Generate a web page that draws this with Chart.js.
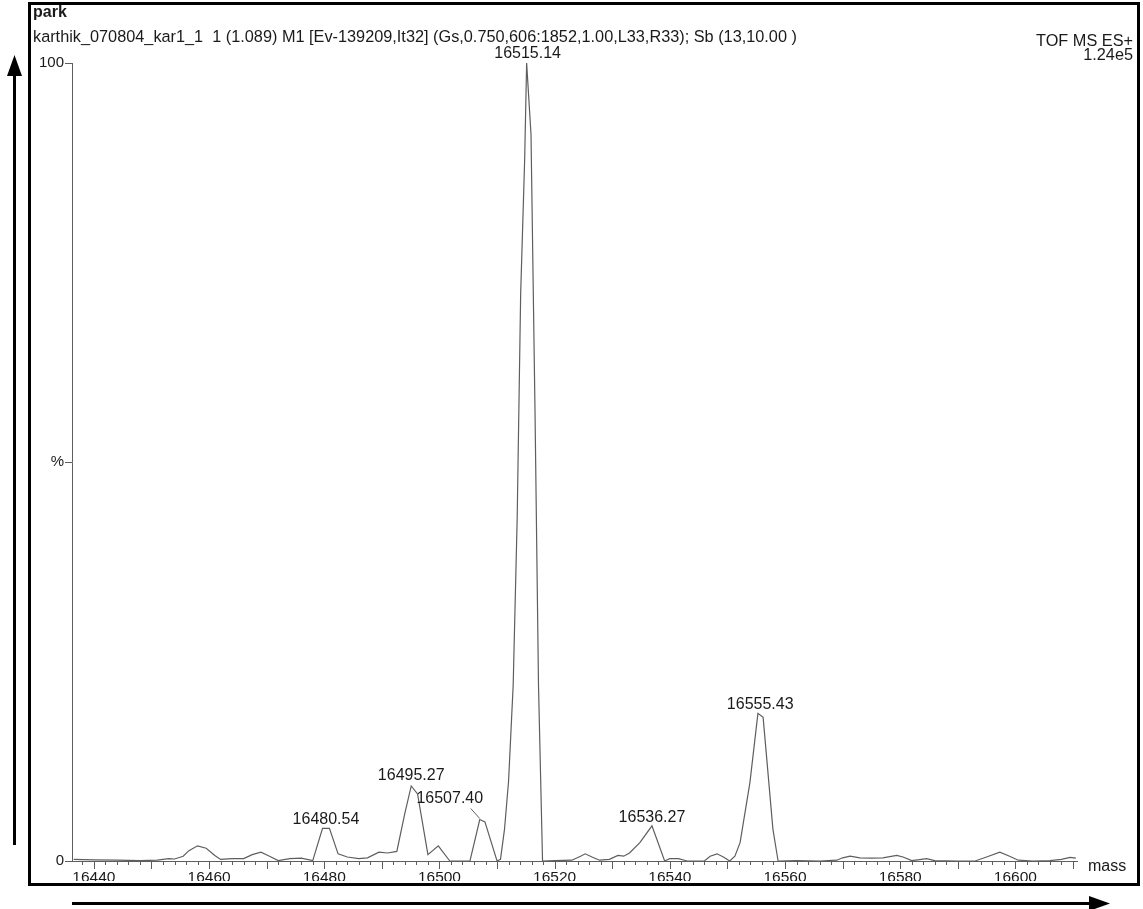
<!DOCTYPE html>
<html>
<head>
<meta charset="utf-8">
<script src="https://cdn.jsdelivr.net/npm/chart.js@4"></script>
<style>
  body { margin: 0; background: #fff; }
  canvas { display: block; }
</style>
</head>
<body>
<canvas id="spectrum" width="1143" height="909"></canvas>
<script>
// Spectrum trace: mass (Da) vs relative intensity (%)
const massValues = [
  16436.5, 16440, 16444, 16448, 16451, 16453, 16454, 16455.5, 16456.5, 16458,
  16459.5, 16461, 16462, 16464, 16466, 16467.5, 16469, 16470.5, 16472, 16474,
  16476, 16478, 16479.7, 16480.9, 16482.4, 16484, 16486, 16487.5, 16489.5, 16491,
  16492.6, 16494, 16495.1, 16496.2, 16498, 16499.8, 16501.8, 16505.3, 16507.0, 16507.9,
  16510.0, 16510.6, 16511.3, 16512.0, 16512.8, 16513.5, 16514.1, 16514.8, 16515.14, 16515.9,
  16516.6, 16517.2, 16517.9, 16520, 16523, 16524.5, 16525.3, 16526.5, 16527.8, 16529.5,
  16531.0, 16532, 16533, 16534.8, 16536.9, 16539.1, 16540, 16541.5, 16543, 16546,
  16547, 16548.2, 16549.3, 16550.4, 16551.3, 16552.2, 16553.9, 16555.3, 16556.2, 16557.9,
  16558.8, 16562, 16566, 16569, 16570, 16571.3, 16573, 16575, 16577, 16579.4,
  16580.5, 16582, 16583, 16584.6, 16586, 16590, 16593, 16595, 16597.3, 16599,
  16600.5, 16603, 16606, 16608, 16609.5, 16610.5
];
const intensityValues = [
  0.2, 0.15, 0.1, 0.05, 0.1, 0.3, 0.25, 0.6, 1.3, 1.9,
  1.6, 0.7, 0.2, 0.3, 0.3, 0.8, 1.1, 0.6, 0.05, 0.3,
  0.35, 0.05, 4.1, 4.1, 0.9, 0.5, 0.3, 0.4, 1.1, 1.0,
  1.2, 6.0, 9.4, 8.4, 0.8, 1.9, 0, 0, 5.2, 4.9,
  0, 0.2, 4.0, 10, 22, 43, 71, 88, 100, 91,
  56, 22, 0, 0.05, 0.1, 0.6, 0.9, 0.5, 0.1, 0.2,
  0.7, 0.6, 1.0, 2.3, 4.4, 0, 0.3, 0.3, 0, 0,
  0.6, 0.9, 0.5, 0, 0.6, 2.3, 9.8, 18.5, 18.0, 4.0,
  0, 0.05, 0, 0.1, 0.4, 0.6, 0.4, 0.35, 0.4, 0.7,
  0.5, 0.05, 0.15, 0.3, 0.05, 0, 0, 0.5, 1.1, 0.6,
  0.1, 0, 0.05, 0.2, 0.45, 0.35
];

// Axis ticks
const massTicks = [16440, 16460, 16480, 16500, 16520, 16540, 16560, 16580, 16600];
const intensityTicks = [0, 50, 100];
const intensityTickLabels = ["0", "%", "100"];

// Annotated peaks
const peakLabels = ["16480.54", "16495.27", "16507.40", "16515.14", "16536.27", "16555.43"];
const peakMasses = [16480.3, 16495.1, 16507.0, 16515.14, 16536.9, 16555.7];
const peakHeights = [4.1, 9.4, 5.2, 100, 4.4, 18.5];

const headerTitle = "park";
const headerInfo = "karthik_070804_kar1_1  1 (1.089) M1 [Ev-139209,It32] (Gs,0.750,606:1852,1.00,L33,R33); Sb (13,10.00 )";
const headerMode = "TOF MS ES+";
const headerScale = "1.24e5";
const xAxisName = "mass";

const FONT = "'Liberation Sans', Arial, sans-serif";
const INK = "#1a1a1a";
const TRACE = "#5e5e5e";

/**
 * Draws the MassLynx style decorations: tick marks, tick labels, peak labels,
 * header text, frame and the two arrows outside the frame.
 */
const spectrumDecor = {
  id: "spectrumDecor",
  afterDraw(chart) {
    const ctx = chart.ctx;
    const x = chart.scales.x;
    const y = chart.scales.y;
    const bottom = y.getPixelForValue(0);

    ctx.save();

    // minor / major ticks on the mass axis
    ctx.strokeStyle = TRACE;
    ctx.lineWidth = 1;
    ctx.beginPath();
    for (let m = 16438; m <= 16610; m += 2) {
      const px = Math.round(x.getPixelForValue(m)) + 0.5;
      const len = m % 10 === 0 ? 8 : 4;
      ctx.moveTo(px, bottom);
      ctx.lineTo(px, bottom + len);
    }
    ctx.stroke();

    // mass tick labels, cut at the bottom by the frame as in the print
    ctx.save();
    ctx.beginPath();
    ctx.rect(31, bottom + 1, 1106, 880 - bottom);
    ctx.clip();
    ctx.fillStyle = INK;
    ctx.font = "15.5px " + FONT;
    ctx.textAlign = "center";
    ctx.textBaseline = "top";
    massTicks.forEach((m) => {
      ctx.fillText(String(m), x.getPixelForValue(m), bottom + 9);
    });
    ctx.restore();

    // peak labels
    ctx.fillStyle = INK;
    ctx.strokeStyle = TRACE;
    ctx.font = "16px " + FONT;
    ctx.textAlign = "center";
    ctx.textBaseline = "alphabetic";
    peakLabels.forEach((label, i) => {
      const px = x.getPixelForValue(peakMasses[i]);
      const py = y.getPixelForValue(peakHeights[i]);
      if (label === "16507.40") {
        // label sits up-left of its peak with a short leader line
        ctx.fillText(label, px - 30, py - 17);
        ctx.beginPath();
        ctx.moveTo(px - 9, py - 11);
        ctx.lineTo(px, py - 1);
        ctx.stroke();
      } else if (label === "16515.14") {
        ctx.fillText(label, px + 1, py - 5);
      } else if (label === "16495.27") {
        ctx.fillText(label, px, py - 6);
      } else {
        ctx.fillText(label, px, py - 4);
      }
    });

    // mass axis name
    ctx.textAlign = "left";
    ctx.textBaseline = "middle";
    ctx.fillText(xAxisName, x.right + 11, bottom + 6);

    // header
    ctx.textBaseline = "alphabetic";
    ctx.font = "bold 16px " + FONT;
    ctx.fillText(headerTitle, 33, 17);
    ctx.font = "16.3px " + FONT;
    ctx.fillText(headerInfo, 33, 42);
    ctx.textAlign = "right";
    ctx.fillText(headerMode, 1133, 46);
    ctx.fillText(headerScale, 1133, 60);

    // frame
    ctx.strokeStyle = "#000";
    ctx.lineWidth = 3;
    ctx.strokeRect(29.5, 3.5, 1109, 881);

    // intensity arrow (left)
    ctx.beginPath();
    ctx.moveTo(14.5, 845);
    ctx.lineTo(14.5, 72);
    ctx.stroke();
    ctx.fillStyle = "#000";
    ctx.beginPath();
    ctx.moveTo(14.5, 55);
    ctx.lineTo(7, 76);
    ctx.lineTo(22, 76);
    ctx.closePath();
    ctx.fill();

    // mass arrow (bottom)
    ctx.beginPath();
    ctx.moveTo(72, 903.5);
    ctx.lineTo(1092, 903.5);
    ctx.stroke();
    ctx.beginPath();
    ctx.moveTo(1110, 903.5);
    ctx.lineTo(1089, 896);
    ctx.lineTo(1089, 911);
    ctx.closePath();
    ctx.fill();

    ctx.restore();
  },
};

const ctx = document.getElementById("spectrum").getContext("2d");

new Chart(ctx, {
  type: "line",
  data: {
    datasets: [
      {
        label: "spectrum",
        data: massValues.map((m, i) => ({ x: m, y: intensityValues[i] })),
        borderColor: TRACE,
        borderWidth: 1.2,
        pointRadius: 0,
        tension: 0,
        fill: false,
        clip: false,
      },
    ],
  },
  options: {
    responsive: false,
    animation: false,
    events: [],
    layout: {
      padding: { left: 32, top: 63, right: 66, bottom: 23 },
    },
    plugins: {
      legend: { display: false },
      tooltip: { enabled: false },
    },
    scales: {
      x: {
        type: "linear",
        min: 16436.2,
        max: 16610.7,
        afterFit: (scale) => {
          scale.height = 25;
        },
        grid: { display: false },
        border: { display: true, color: TRACE, width: 1 },
        ticks: { display: false },
      },
      y: {
        type: "linear",
        min: 0,
        max: 100,
        afterBuildTicks: (scale) => {
          scale.ticks = intensityTicks.map((v) => ({ value: v }));
        },
        afterFit: (scale) => {
          scale.width = 40;
        },
        grid: {
          drawOnChartArea: false,
          drawTicks: true,
          tickLength: 7,
          tickColor: TRACE,
        },
        border: { display: true, color: TRACE, width: 1 },
        ticks: {
          padding: 1,
          color: INK,
          font: { family: FONT, size: 15 },
          callback: (v) => intensityTickLabels[intensityTicks.indexOf(v)],
        },
      },
    },
  },
  plugins: [spectrumDecor],
});
</script>
</body>
</html>
